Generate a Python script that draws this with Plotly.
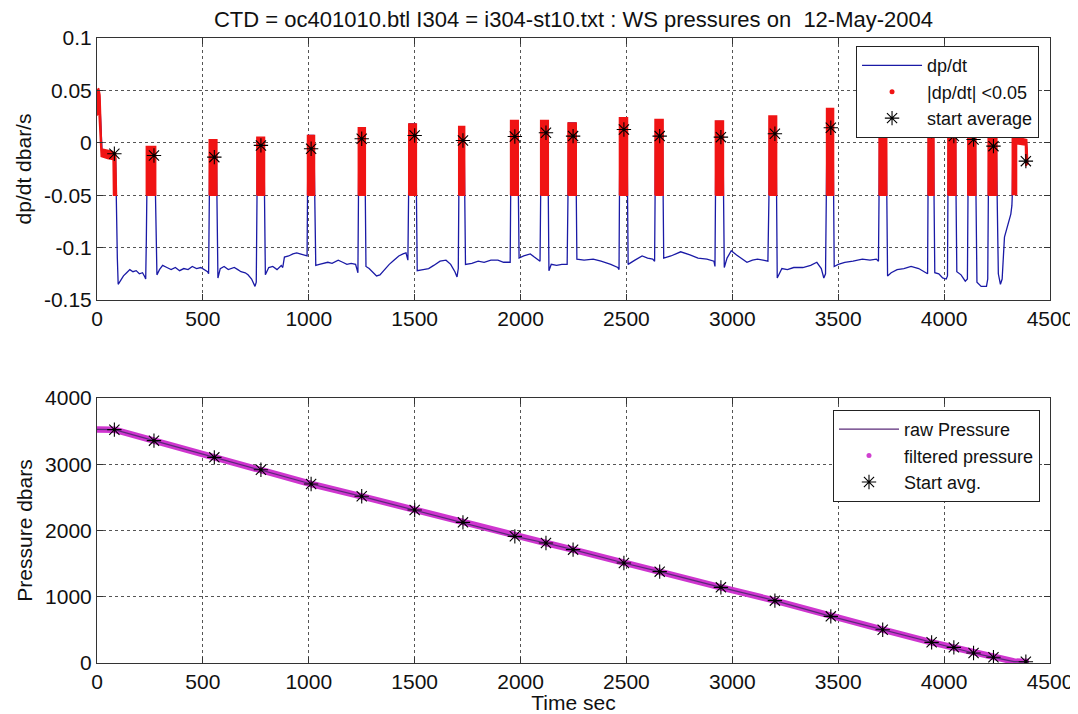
import plotly.graph_objects as go
from plotly.subplots import make_subplots

# ---------------- data ----------------
# dp/dt trace (time sec, dbar/s)
dpdt_t = [0, 4, 12, 20, 24, 50, 75, 88, 90, 93, 96, 100, 110, 125, 140, 155, 170, 185, 200, 215, 226, 230, 233, 235,
          238, 272, 277, 280, 283,
          295, 310, 330, 350, 370, 390, 410, 430, 450, 470, 490, 510, 522, 527, 530,
          533, 563, 566, 568, 571,
          582, 600, 620, 648, 665, 680, 700, 713, 730, 746, 752, 755,
          758, 788, 791, 795,
          811, 830, 850, 870, 877, 885, 905, 925, 943, 960, 975, 992, 994,
          997, 1024, 1027, 1033,
          1050, 1070, 1090, 1110, 1139, 1160, 1180, 1200, 1221, 1232, 1234,
          1237, 1264, 1267, 1270,
          1285, 1303, 1320, 1336, 1360, 1380, 1402, 1425, 1445, 1459, 1468, 1472,
          1475, 1505, 1508, 1512,
          1540, 1566, 1590, 1620, 1648, 1670, 1690, 1700, 1706, 1708,
          1711, 1733, 1736, 1740,
          1770, 1800, 1828, 1860, 1893, 1920, 1951, 1953,
          1956, 1986, 1989, 1993,
          2015, 2046, 2065, 2079, 2092, 2095,
          2098, 2128, 2131, 2134,
          2145, 2170, 2195, 2220, 2224,
          2227, 2260, 2263, 2266,
          2300, 2343, 2380, 2426, 2459, 2465, 2467,
          2470, 2502, 2505, 2508,
          2540, 2574, 2600, 2624, 2633, 2635,
          2638, 2670, 2673, 2676,
          2710, 2756, 2800, 2838, 2880, 2913, 2918, 2920,
          2923, 2955, 2958, 2962,
          2975, 2995, 3020, 3045, 3069, 3095, 3119, 3145, 3168, 3173,
          3176, 3206, 3209, 3212,
          3234, 3260, 3290, 3333, 3370, 3399, 3420, 3432, 3440, 3445,
          3448, 3475, 3478, 3481,
          3500, 3531, 3570, 3614, 3650, 3680, 3690, 3693,
          3696, 3726, 3729, 3733,
          3750, 3778, 3810, 3844, 3880, 3911, 3922, 3924,
          3927, 3949, 3952, 3956,
          3975, 3993, 4010, 4016, 4018,
          4021, 4053, 4056, 4060,
          4080, 4100, 4110, 4112,
          4115, 4147, 4150, 4155,
          4175, 4200, 4206, 4208,
          4211, 4246, 4249, 4256, 4266, 4274, 4285, 4299, 4315, 4320, 4322,
          4325, 4388, 4395]
dpdt_v = [0.03, 0.048, 0.045, 0.01, -0.008, -0.01, -0.012, -0.015, -0.05, -0.07, -0.11, -0.135, -0.132, -0.127, -0.124, -0.121, -0.123, -0.122, -0.125, -0.124, -0.128, -0.130, -0.092, -0.05,
          -0.004, -0.004, -0.05, -0.11, -0.126,
          -0.121, -0.117, -0.119, -0.121, -0.119, -0.122, -0.120, -0.121, -0.118, -0.120, -0.119, -0.121, -0.123, -0.125, -0.05,
          0.003, 0.003, -0.05, -0.12, -0.129,
          -0.12, -0.118, -0.121, -0.119, -0.121, -0.123, -0.124, -0.126, -0.13, -0.137, -0.133, -0.05,
          0.005, 0.005, -0.05, -0.126,
          -0.119, -0.118, -0.121, -0.117, -0.119, -0.109, -0.108, -0.106, -0.105, -0.106, -0.107, -0.108, -0.05,
          0.007, 0.007, -0.05, -0.117,
          -0.116, -0.115, -0.114, -0.115, -0.112, -0.114, -0.116, -0.115, -0.116, -0.124, -0.05,
          0.014, 0.014, -0.05, -0.118,
          -0.12, -0.124, -0.127, -0.126, -0.12, -0.116, -0.112, -0.108, -0.106, -0.105, -0.112, -0.05,
          0.018, 0.018, -0.05, -0.122,
          -0.121, -0.12, -0.117, -0.113, -0.112, -0.116, -0.123, -0.128, -0.12, -0.05,
          0.0155, 0.0155, -0.05, -0.116,
          -0.115, -0.113, -0.114, -0.112, -0.112, -0.114, -0.114, -0.05,
          0.021, 0.021, -0.05, -0.11,
          -0.108, -0.106, -0.109, -0.111, -0.113, -0.05,
          0.021, 0.021, -0.05, -0.122,
          -0.116, -0.117, -0.116, -0.116, -0.05,
          0.019, 0.019, -0.05, -0.111,
          -0.112, -0.111, -0.113, -0.116, -0.119, -0.121, -0.05,
          0.024, 0.024, -0.05, -0.116,
          -0.112, -0.108, -0.11, -0.111, -0.113, -0.05,
          0.022, 0.022, -0.05, -0.11,
          -0.108, -0.104, -0.107, -0.11, -0.111, -0.113, -0.118, -0.05,
          0.0205, 0.0205, -0.05, -0.119,
          -0.11, -0.103, -0.107, -0.111, -0.114, -0.112, -0.111, -0.112, -0.113, -0.05,
          0.025, 0.025, -0.05, -0.129,
          -0.12, -0.121, -0.119, -0.119, -0.117, -0.114, -0.12, -0.129, -0.125, -0.05,
          0.032, 0.032, -0.05, -0.118,
          -0.116, -0.114, -0.113, -0.111, -0.112, -0.111, -0.113, -0.05,
          0.0235, 0.0235, -0.05, -0.127,
          -0.124, -0.121, -0.12, -0.118, -0.12, -0.124, -0.125, -0.05,
          0.0205, 0.0205, -0.05, -0.124,
          -0.125, -0.129, -0.13, -0.127, -0.05,
          0.015, 0.015, -0.05, -0.123,
          -0.126, -0.132, -0.13, -0.05,
          0.014, 0.014, -0.05, -0.133,
          -0.137, -0.137, -0.13, -0.05,
          0.009, 0.009, -0.05, -0.125, -0.135, -0.13, -0.09, -0.079, -0.068, -0.06, -0.05,
          0.005, 0.002, -0.02]

# bottle stops: extent of the |dp/dt|<0.05 columns and their tops
stop_left = [233, 530, 755, 994, 1234, 1472, 1708, 1953, 2095, 2224, 2467, 2635, 2920, 3173, 3445, 3693, 3924, 4018, 4112, 4208]
stop_right = [277, 566, 791, 1027, 1267, 1508, 1736, 1989, 2131, 2263, 2505, 2673, 2958, 3209, 3478, 3729, 3952, 4056, 4150, 4249]
stop_top = [-0.0035, 0.003, 0.0054, 0.007, 0.0143, 0.018, 0.0156, 0.0213, 0.0213, 0.019, 0.0239, 0.0223,
            0.0207, 0.0255, 0.0328, 0.0239, 0.0207, 0.015, 0.014, 0.0092]
# first (surface) and last stop outlines of the |dp/dt|<0.05 points
first_stop_t = [0, 0, 8, 14, 22, 70, 88, 92, 78, 76, 50, 20, 10]
first_stop_v = [0.026, 0.05, 0.052, 0.046, -0.006, -0.008, -0.01, -0.05, -0.05, -0.016, -0.015, -0.013, 0.026]
last_stop_t = [4322, 4322, 4330, 4390, 4395, 4386, 4384, 4342, 4342]
last_stop_v = [-0.05, 0.004, 0.006, 0.003, -0.02, -0.022, -0.002, -0.001, -0.05]

# start of averaging at each stop
avg_t = [82, 269, 554, 774, 1011, 1250, 1500, 1728, 1973, 2120, 2248, 2488, 2657, 2946, 3201, 3465,
         3710, 3941, 4046, 4139, 4233, 4386]
avg_dpdt = [-0.0105, -0.0121, -0.0137, -0.0025, -0.0057, 0.0038, 0.007, 0.0022, 0.006, 0.0096, 0.0064,
            0.0127, 0.0064, 0.0054, 0.0086, 0.0143, 0.0175, 0.0111, 0.0064, 0.0032, -0.0032, -0.0175]
avg_pres = [3522, 3356, 3104, 2918, 2702, 2516, 2309, 2123, 1912, 1811, 1711, 1510, 1379, 1142, 941, 704,
            503, 312, 236, 151, 86, 20]

# pressure record
pres_t = [0, 82, 269, 554, 774, 1011, 1250, 1500, 1728, 1973, 2120, 2248, 2488, 2657, 2946, 3201, 3465,
          3710, 3941, 4046, 4139, 4233, 4330, 4400]
pres_p = [3525, 3522, 3356, 3104, 2918, 2702, 2516, 2309, 2123, 1912, 1811, 1711, 1510, 1379, 1142, 941, 704,
          503, 312, 236, 151, 86, 22, 15]

title_text = "CTD = oc401010.btl I304 = i304-st10.txt : WS pressures on \u00a012-May-2004"
x_ticks = [0, 500, 1000, 1500, 2000, 2500, 3000, 3500, 4000, 4500]
dp_ticks = [-0.15, -0.1, -0.05, 0, 0.05, 0.1]
dp_ticktext = ["-0.15", "-0.1", "-0.05", "0", "0.05", "0.1"]
p_ticks = [0, 1000, 2000, 3000, 4000]

# ---------------- figure ----------------
FONT = "Liberation Sans, Arial, Helvetica, sans-serif"
RED = "#f01414"
W, H = 1070, 706   # page body adds an 8 px offset
fig = make_subplots(rows=2, cols=1)

# red |dp/dt|<0.05 regions (polygons per stop)
red_x, red_y = [], []
red_x += first_stop_t + [None]
red_y += first_stop_v + [None]
for l, r, tp in zip(stop_left, stop_right, stop_top):
    red_x += [l, l, r, r, l, None]
    red_y += [-0.05, tp, tp, -0.05, -0.05, None]
red_x += last_stop_t
red_y += last_stop_v

fig.add_trace(go.Scatter(x=dpdt_t, y=dpdt_v, mode="lines", name="dp/dt",
                         line=dict(color="#1a1aa6", width=1.3), legend="legend"), row=1, col=1)
fig.add_trace(go.Scatter(x=red_x, y=red_y, mode="lines", fill="toself", fillcolor=RED,
                         line=dict(color=RED, width=1.5), showlegend=False, hoverinfo="skip"),
              row=1, col=1)
fig.add_trace(go.Scatter(x=[None], y=[None], mode="markers", name="|dp/dt| <0.05",
                         marker=dict(color=RED, size=5), legend="legend"), row=1, col=1)
fig.add_trace(go.Scatter(x=avg_t, y=avg_dpdt, mode="markers", name="start average",
                         marker=dict(symbol="asterisk-open", size=12, color="black",
                                     line=dict(width=1.1, color="#111")), legend="legend"), row=1, col=1)

# pressure panel
fig.add_trace(go.Scatter(x=pres_t, y=pres_p, mode="lines", name="filtered pressure",
                         line=dict(color="#cf35cf", width=6.5), showlegend=False), row=2, col=1)
fig.add_trace(go.Scatter(x=pres_t, y=pres_p, mode="lines", name="raw Pressure",
                         line=dict(color="#5a2a78", width=1.2), legend="legend2"), row=2, col=1)
fig.add_trace(go.Scatter(x=[None], y=[None], mode="markers", name="filtered pressure",
                         marker=dict(color="#d040d0", size=5), legend="legend2"), row=2, col=1)
fig.add_trace(go.Scatter(x=avg_t, y=avg_pres, mode="markers", name="Start avg.",
                         marker=dict(symbol="asterisk-open", size=12, color="black",
                                     line=dict(width=1.1, color="#111")), legend="legend2"), row=2, col=1)

axis_common = dict(showline=True, linecolor="#333", linewidth=1, mirror="ticks",
                   ticks="inside", ticklen=6, tickcolor="#333", automargin=False,
                   showgrid=True, gridcolor="#555", griddash="dot", gridwidth=1,
                   zeroline=False, tickfont=dict(family=FONT, size=21, color="#111"))

fig.update_xaxes(range=[0, 4500], tickvals=x_ticks, **axis_common)
fig.update_xaxes(title=dict(text="Time sec", font=dict(family=FONT, size=21, color="#111"), standoff=2),
                 row=2, col=1)
fig.update_yaxes(range=[-0.15, 0.1], tickvals=dp_ticks, ticktext=dp_ticktext,
                 title=dict(text="dp/dt dbar/s", font=dict(family=FONT, size=21, color="#111"), standoff=6),
                 row=1, col=1, **axis_common)
fig.update_yaxes(range=[0, 4000], tickvals=p_ticks,
                 title=dict(text="Pressure dbars", font=dict(family=FONT, size=21, color="#111"), standoff=6),
                 row=2, col=1, **axis_common)

LEGEND_FONT = dict(family=FONT, size=18, color="#111")
fig.update_layout(
    width=W, height=H,
    margin=dict(l=89, r=28, t=30, b=51),
    paper_bgcolor="white", plot_bgcolor="white",
    font=dict(family=FONT, size=21, color="#111"),
    title=dict(text=title_text, x=0.5, xref="paper", xanchor="center",
               y=1 - 11 / H, yref="container", yanchor="middle",
               font=dict(family=FONT, size=22, color="#111")),
    legend=dict(x=0.9885, y=0.987, xanchor="right", yanchor="top", bgcolor="white",
                bordercolor="#222", borderwidth=1, font=LEGEND_FONT,
                itemwidth=60, tracegroupgap=0),
    legend2=dict(x=0.9895, y=0.4048, xanchor="right", yanchor="top", bgcolor="white",
                 bordercolor="#222", borderwidth=1, font=LEGEND_FONT,
                 itemwidth=60, tracegroupgap=0),
    showlegend=True,
)
fig.layout.xaxis.domain = [0, 1]
fig.layout.xaxis2.domain = [0, 1]
fig.layout.yaxis.domain = [0.5808, 1]
fig.layout.yaxis2.domain = [0, 0.424]

fig.write_html("out.html")
